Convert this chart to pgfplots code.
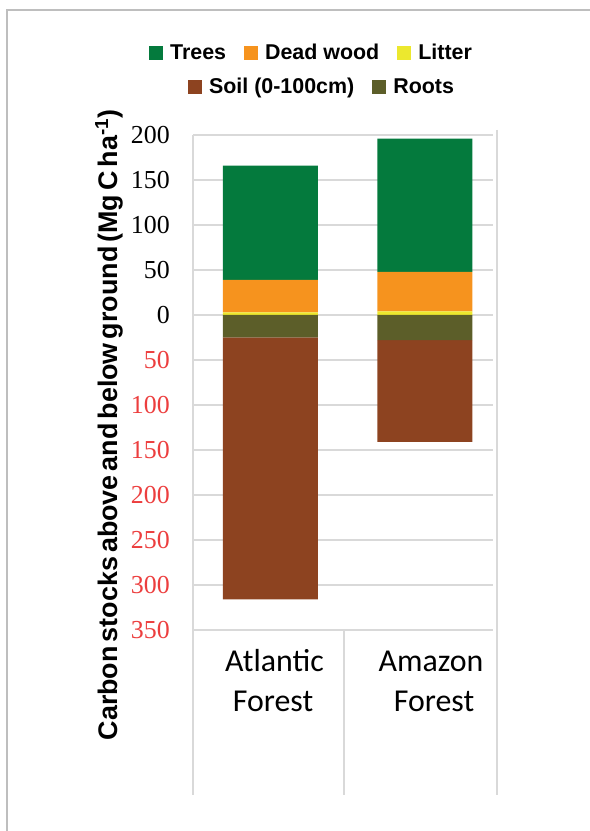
\documentclass[border=0pt]{standalone}
\usepackage{pgfplots}
\pgfplotsset{compat=1.18}
\usepackage{fontspec}
\setmainfont{Liberation Serif}
\newfontfamily\arialf{Liberation Sans}
\newfontfamily\calib{Carlito}
\definecolor{trees}{RGB}{4,122,61}
\definecolor{deadwood}{RGB}{246,147,30}
\definecolor{litter}{RGB}{236,232,46}
\definecolor{soil}{RGB}{141,67,32}
\definecolor{roots}{RGB}{92,94,41}
\definecolor{gridgray}{RGB}{217,217,217}
\definecolor{framegray}{RGB}{190,190,190}
\definecolor{tickred}{RGB}{236,62,62}
\pgfplotsset{
  basestyle/.style={
    at={(193bp,201bp)}, anchor=south west,
    scale only axis, width=300bp, height=495bp,
    xmin=-0.5, xmax=1.5, ymin=-350, ymax=200,
    ybar stacked, bar width=95bp,
    xtick=\empty,
    major tick length=0pt,
    axis line style={draw=none},
    legend image code/.code={\fill[##1] (0bp,-7bp) rectangle (14bp,7bp);},
    legend style={draw=none, fill=none, anchor=center, legend columns=-1,
      font=\arialf\bfseries\fontsize{21.5}{24}\selectfont,
      inner sep=0pt, nodes={inner sep=0pt},
      /tikz/every odd column/.append style={column sep=7bp},
      /tikz/every even column/.append style={column sep=18bp}},
    reverse legend,
  }
}
\begin{document}
\begin{tikzpicture}[x=1bp,y=1bp]
\useasboundingbox (0,0) rectangle (590,831);
\draw[color=framegray, line width=1.5bp] (7,821) rectangle (640,-30);
% positive (above ground)
\begin{axis}[basestyle,
  ytick={-350,-300,-250,-200,-150,-100,-50,0,50,100,150,200},
  yticklabels={\textcolor{tickred}{350},\textcolor{tickred}{300},\textcolor{tickred}{250},\textcolor{tickred}{200},\textcolor{tickred}{150},\textcolor{tickred}{100},\textcolor{tickred}{50},0,50,100,150,200},
  yticklabel style={font=\fontsize{26}{26}\selectfont, inner sep=0pt, xshift=-23bp},
  ymajorgrids=true, grid style={color=gridgray, line width=1.3bp},
  legend style={at={(0.3917,1.1657)}},
]
\addplot[fill=litter, draw=none] coordinates {(0.015,3) (1.045,4)};
\addplot[fill=deadwood, draw=none] coordinates {(0.015,36) (1.045,44)};
\addplot[fill=trees, draw=none] coordinates {(0.015,127) (1.045,148)};
\legend{Litter, Dead wood, Trees}
\end{axis}
% negative (below ground)
\begin{axis}[basestyle, ytick=\empty,
  legend style={at={(0.4267,1.097)}},
]
\addplot[fill=roots, draw=none] coordinates {(0.015,-25) (1.045,-28)};
\addplot[fill=soil, draw=none] coordinates {(0.015,-291) (1.045,-113)};
\legend{Roots, Soil (0-100cm)}
\end{axis}
\draw[color=gridgray, line width=1.3bp] (193,696) -- (193,36);
\draw[color=gridgray, line width=1.3bp] (497,701) -- (497,36);
\draw[color=gridgray, line width=1.3bp] (344,201) -- (344,36);
\node[rotate=90, font=\arialf\bfseries\fontsize{27}{27}\selectfont, inner sep=0pt] at (109,406) {\spaceskip=4bp\relax Carbon stocks above and below ground (Mg C ha\textsuperscript{-1})};
\node[font=\calib\fontsize{32}{32}\selectfont, anchor=base, inner sep=0pt] at (274.5,159) {Atlantic};
\node[font=\calib\fontsize{32}{32}\selectfont, anchor=base, inner sep=0pt] at (273,119) {Forest};
\node[font=\calib\fontsize{32}{32}\selectfont, anchor=base, inner sep=0pt] at (431,159) {Amazon};
\node[font=\calib\fontsize{32}{32}\selectfont, anchor=base, inner sep=0pt] at (434,119) {Forest};
\end{tikzpicture}
\end{document}
